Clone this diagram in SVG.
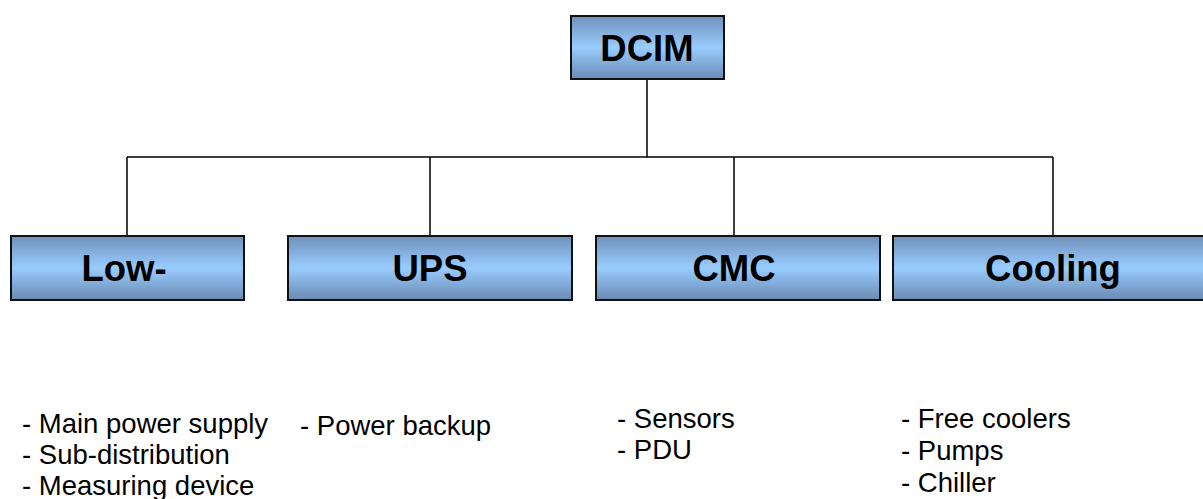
<svg xmlns="http://www.w3.org/2000/svg" width="1203" height="499" viewBox="0 0 1203 499">
<defs>
<linearGradient id="g" x1="0" y1="0" x2="0" y2="1">
<stop offset="0" stop-color="#6f90b9"/>
<stop offset="0.5" stop-color="#99ccff"/>
<stop offset="1" stop-color="#6a8ab2"/>
</linearGradient>
<style>
.box{fill:url(#g);stroke:#111;stroke-width:2}
.lbl{font-family:"Liberation Sans",Arial,sans-serif;font-weight:bold;font-size:36.5px;fill:#000;text-anchor:middle}
.item{font-family:"Liberation Sans",Arial,sans-serif;font-size:27.5px;fill:#000}
.conn{fill:none;stroke:#000;stroke-width:1.5}
</style>
</defs>
<rect width="1203" height="499" fill="#fff"/>
<g id="connectors">
<path class="conn" d="M647 80V157M127 157H1053M127 157V236M430 157V236M734 157V236M1053 157V236"/>
</g>
<g id="dcim"><rect class="box" x="571" y="16" width="153" height="63"/><text class="lbl" x="647" y="61">DCIM</text></g>
<g id="low"><rect class="box" x="11" y="236" width="233" height="64"/><text class="lbl" x="124" y="281">Low-</text></g>
<g id="ups"><rect class="box" x="288" y="236" width="284" height="64"/><text class="lbl" x="430" y="281">UPS</text></g>
<g id="cmc"><rect class="box" x="596" y="236" width="284" height="64"/><text class="lbl" x="734" y="281">CMC</text></g>
<g id="cooling"><rect class="box" x="893" y="236" width="312" height="64"/><text class="lbl" x="1053" y="281">Cooling</text></g>
<g id="low-items">
<text class="item" x="22" y="433">- Main power supply</text>
<text class="item" x="22" y="464">- Sub-distribution</text>
<text class="item" x="22" y="495">- Measuring device</text>
</g>
<g id="ups-items"><text class="item" x="300" y="435">- Power backup</text></g>
<g id="cmc-items">
<text class="item" x="617" y="428">- Sensors</text>
<text class="item" x="617" y="459">- PDU</text>
</g>
<g id="cooling-items">
<text class="item" x="901" y="428">- Free coolers</text>
<text class="item" x="901" y="460">- Pumps</text>
<text class="item" x="901" y="492">- Chiller</text>
</g>
</svg>
